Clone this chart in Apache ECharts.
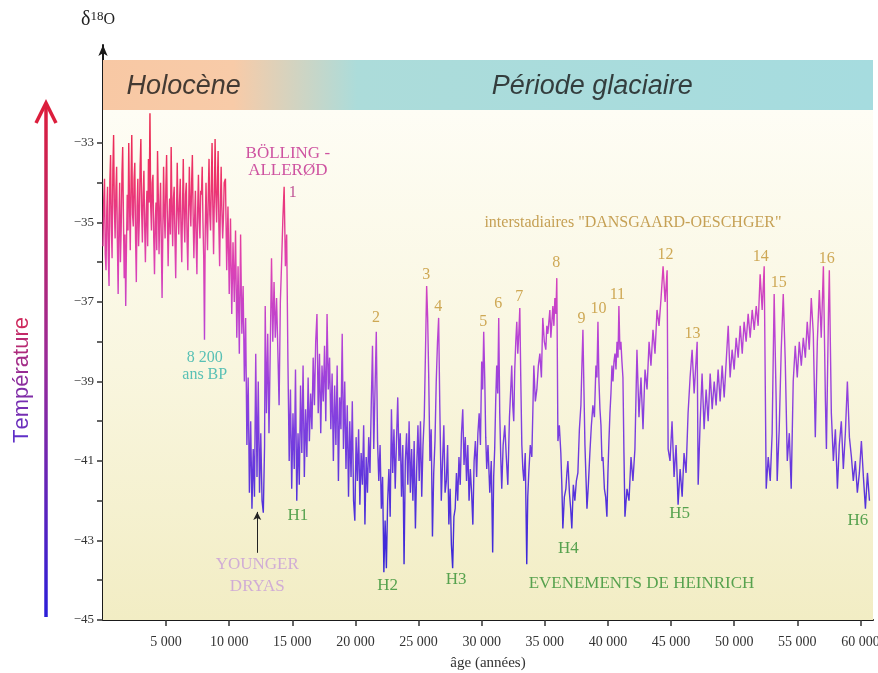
<!DOCTYPE html>
<html>
<head>
<meta charset="utf-8">
<script src="https://cdn.jsdelivr.net/npm/echarts@6/dist/echarts.min.js"></script>
<style>
  html, body { margin: 0; padding: 0; background: #ffffff; }
  #chart { width: 878px; height: 673px; }
</style>
</head>
<body>
<div id="chart"></div>
<script>
// Ice-core δ18O (‰) against age (years BP), in four stretches of the record.
const holocene = [
  [0,-35.6],[60,-34.4],[120,-33.9],[180,-35.8],[240,-36.2],[300,-34.7],[360,-34.1],[420,-35.9],
  [480,-36.6],[540,-34.0],[600,-33.3],[660,-35.1],[720,-35.9],[780,-33.7],[840,-32.8],[900,-34.6],
  [960,-35.4],[1020,-34.2],[1080,-33.6],[1140,-35.5],[1200,-36.8],[1260,-35.0],[1320,-34.0],[1380,-36.0],
  [1440,-35.2],[1500,-33.8],[1560,-33.1],[1620,-34.9],[1680,-36.4],[1740,-35.3],[1800,-37.1],[1860,-35.6],
  [1920,-34.3],[1980,-35.2],[2040,-33.0],[2100,-34.5],[2160,-35.7],[2220,-34.0],[2280,-32.8],[2340,-34.8],
  [2400,-35.1],[2460,-33.9],[2520,-33.5],[2580,-35.4],[2640,-36.5],[2700,-34.6],[2760,-33.9],[2820,-35.6],
  [2880,-34.9],[2940,-33.6],[3000,-32.9],[3060,-34.7],[3120,-35.5],[3180,-34.3],[3240,-33.7],[3300,-35.1],
  [3360,-36.0],[3420,-34.8],[3480,-34.2],[3540,-35.6],[3600,-33.4],[3660,-34.5],[3720,-32.25],[3780,-34.6],
  [3840,-35.2],[3900,-34.0],[3960,-33.8],[4020,-35.4],[4080,-36.3],[4140,-35.0],[4200,-34.5],[4260,-35.7],
  [4320,-33.2],[4380,-34.3],[4440,-35.8],[4500,-34.7],[4560,-34.0],[4620,-35.5],[4680,-36.9],[4740,-35.2],
  [4800,-33.6],[4860,-34.8],[4920,-35.4],[4980,-34.1],[5040,-33.3],[5100,-34.9],[5160,-36.1],[5220,-35.0],
  [5280,-34.4],[5340,-35.3],[5400,-33.1],[5460,-34.6],[5520,-35.6],[5580,-34.4],[5640,-34.1],[5700,-35.4],
  [5760,-36.4],[5820,-34.9],[5880,-33.5],[5940,-34.7],[6000,-35.3],[6060,-34.5],[6120,-33.9],[6180,-35.2],
  [6240,-36.0],[6300,-34.6],[6360,-33.4],[6420,-34.9],[6480,-35.5],[6540,-34.3],[6600,-34.0],[6660,-35.4],
  [6720,-36.2],[6780,-34.8],[6840,-33.6],[6900,-34.5],[6960,-35.1],[7020,-34.0],[7080,-33.3],[7140,-34.8],
  [7200,-35.9],[7260,-34.9],[7320,-34.2],[7380,-35.5],[7440,-36.3],[7500,-34.7],[7560,-33.8],[7620,-34.9],
  [7680,-35.4],[7740,-34.2],[7800,-34.3],[7860,-33.6],[7920,-35.0],[7980,-35.9],[8040,-37.95],[8100,-35.2],
  [8160,-34.0],[8220,-35.0],[8280,-35.7],[8340,-34.3],[8400,-33.4],[8460,-34.8],[8520,-35.2],[8580,-34.1],
  [8640,-33.0],[8700,-34.6],[8760,-35.8],[8820,-34.4],[8880,-32.9],[8940,-34.3],[9000,-35.0],[9060,-34.0],
  [9120,-33.2],[9180,-35.1],[9240,-36.1],[9300,-34.6],[9360,-33.6],[9420,-34.7],[9480,-35.4],[9540,-34.9],
  [9600,-34.0]
];

const lateGlacial = [
  [9700,-33.9],[9800,-36.2],[9900,-34.6],[10000,-36.8],[10100,-34.9],[10200,-37.3],[10300,-35.5],[10400,-37.0],
  [10500,-35.2],[10600,-37.9],[10700,-36.1],[10800,-38.3],[10900,-35.3],[11000,-37.8],[11100,-36.6],[11200,-39.0],
  [11300,-37.4],[11400,-40.6],[11500,-38.9],[11600,-41.8],[11700,-40.0],[11800,-42.2],[11900,-40.7],[12000,-41.9],
  [12100,-38.3],[12200,-41.4],[12300,-39.0],[12400,-41.8],[12500,-40.3],[12600,-42.0],[12700,-42.3],[12800,-40.6],
  [12850,-37.1],[12950,-39.8],[13050,-37.8],[13150,-40.3],[13250,-38.2],[13350,-35.9],[13450,-38.0],[13550,-36.5],
  [13650,-37.9],[13750,-36.9],[13850,-38.2],[13950,-39.6],[14050,-37.0],[14150,-36.0],[14250,-34.9],[14350,-34.1],
  [14450,-36.1],[14550,-35.3],[14650,-38.5],[14750,-41.0],[14850,-39.2],[14950,-41.7],[15050,-39.8],[15150,-41.2],
  [15250,-38.7],[15350,-42.0],[15450,-40.3],[15550,-41.6],[15650,-39.1],[15750,-40.8],[15850,-38.6],[15950,-41.4],
  [16050,-39.7],[16150,-40.9],[16250,-38.9],[16350,-40.5],[16450,-39.3],[16550,-40.2],[16650,-38.4],[16750,-39.6],
  [16850,-38.0],[16950,-37.3],[17050,-39.8],[17150,-38.3],[17250,-40.3],[17350,-38.6],[17450,-39.5],[17550,-38.1],
  [17650,-40.0],[17750,-37.3],[17850,-39.2],[17950,-38.4],[18050,-40.2],[18150,-38.8],[18250,-41.0],[18350,-39.1],
  [18450,-40.6],[18550,-38.6],[18650,-41.5],[18750,-39.4],[18850,-40.2],[18950,-37.8],[19050,-40.7],[19150,-39.0],
  [19250,-41.2],[19350,-39.6],[19450,-41.9],[19550,-40.0],[19650,-41.4],[19750,-39.5],[19850,-42.0],[19950,-42.5],
  [20050,-40.4]
];

const lastGlacialMax = [
  [20150,-41.5],[20250,-40.2],[20350,-42.1],[20450,-40.8],[20550,-41.6],[20650,-40.1],[20750,-42.6],[20850,-40.9],
  [20950,-41.8],[21050,-40.4],[21150,-41.3],[21250,-39.6],[21350,-38.1],[21450,-40.7],[21550,-39.2],[21650,-37.75],
  [21750,-40.5],[21850,-41.5],[21950,-40.6],[22050,-42.2],[22150,-41.4],[22250,-43.8],[22350,-42.5],[22450,-43.7],
  [22550,-42.0],[22650,-41.2],[22750,-42.4],[22850,-39.7],[22950,-41.3],[23050,-40.2],[23150,-41.7],[23250,-40.5],
  [23350,-39.4],[23450,-41.0],[23550,-40.3],[23650,-41.9],[23750,-40.6],[23850,-43.6],[23950,-41.0],[24050,-40.3],
  [24150,-41.6],[24250,-40.0],[24350,-41.8],[24450,-40.7],[24550,-42.0],[24650,-40.5],[24750,-42.7],[24850,-41.2],
  [24950,-40.1],[25050,-41.5],[25150,-40.0],[25250,-41.9],[25350,-40.6],[25450,-39.9],[25550,-38.2],[25640,-36.6],
  [25720,-37.4],[25800,-38.8],[25900,-41.0],[26000,-40.2],[26100,-42.9],[26200,-41.3],[26300,-40.5],[26400,-39.0],
  [26500,-38.0],[26590,-37.4],[26680,-39.6],[26800,-42.0],[26900,-41.0],[27000,-40.1],[27100,-41.8],[27200,-41.5],
  [27300,-40.6],[27400,-42.6],[27500,-41.7],[27600,-43.1],[27700,-43.7],[27800,-42.4],[27900,-42.2],[28000,-41.3],
  [28100,-42.0],[28200,-40.9],[28300,-41.6],[28400,-40.3],[28500,-39.7],[28600,-41.1],[28700,-40.4],[28800,-41.5],
  [28900,-40.6],[29000,-42.0],[29100,-41.2],[29200,-41.8],[29300,-42.6],[29400,-41.0],[29500,-40.5],[29600,-41.4],
  [29700,-40.3],[29800,-39.8],[29900,-40.6],[30000,-38.5],[30080,-39.2],[30160,-37.75],[30240,-38.9],[30320,-40.4],
  [30400,-41.2],[30500,-40.6],[30640,-41.8],[30760,-41.0],[30870,-43.3],[30950,-41.4],[31030,-40.7],[31110,-39.5],
  [31190,-38.6],[31270,-39.3],[31350,-37.4],[31430,-39.8],[31510,-40.9],[31590,-41.7],[31700,-40.6],[31830,-40.1],
  [31950,-40.9],[32070,-41.6],[32200,-39.9],[32300,-39.2],[32380,-38.6],[32460,-39.6],[32540,-40.0],[32620,-38.7],
  [32700,-38.0],[32780,-37.5],[32860,-38.3],[32940,-37.8],[33020,-37.15],[33100,-39.0],[33180,-40.6],[33260,-41.2],
  [33340,-41.5],[33450,-40.8],[33570,-43.6],[33650,-41.9],[33730,-41.3],[33850,-40.6],[33970,-40.9],[34050,-39.8],
  [34130,-38.6],[34250,-39.5],[34370,-39.2],[34490,-38.6],[34610,-38.3],[34730,-38.9],[34840,-37.4],[34960,-38.0],
  [35080,-38.2],[35160,-37.6],[35240,-37.8],[35400,-37.2],[35480,-37.9],[35560,-37.5],[35640,-37.1],[35720,-37.6],
  [35800,-36.9],[35880,-37.3],[35950,-36.4]
];

const stage3 = [
  [36040,-40.5],[36150,-40.1],[36270,-40.8],[36350,-41.6],[36430,-42.7],[36550,-41.9],[36670,-41.7],[36750,-41.3],
  [36830,-41.0],[36950,-41.8],[37050,-42.2],[37140,-42.7],[37260,-41.6],[37380,-42.0],[37500,-41.5],[37620,-41.3],
  [37740,-40.2],[37860,-39.6],[37940,-38.6],[38020,-37.7],[38100,-39.2],[38180,-40.6],[38260,-41.4],[38340,-42.2],
  [38450,-41.6],[38570,-40.8],[38690,-40.1],[38810,-39.6],[38930,-39.9],[39050,-38.6],[39130,-38.9],[39210,-37.5],
  [39290,-39.0],[39370,-39.7],[39450,-40.1],[39530,-41.0],[39610,-40.9],[39720,-41.7],[39820,-41.9],[39920,-42.4],
  [40000,-41.3],[40080,-40.5],[40160,-39.8],[40240,-39.3],[40320,-38.6],[40400,-39.0],[40480,-38.5],[40560,-38.3],
  [40640,-38.7],[40720,-38.0],[40800,-38.4],[40870,-37.1],[40950,-38.2],[41030,-38.0],[41110,-38.5],[41190,-38.9],
  [41270,-40.8],[41350,-42.4],[41510,-41.7],[41670,-42.0],[41830,-40.9],[41980,-41.5],[42140,-40.7],[42300,-38.2],
  [42460,-39.9],[42620,-38.9],[42780,-40.2],[42940,-38.7],[43100,-39.2],[43260,-38.0],[43410,-38.6],[43570,-37.7],
  [43730,-38.3],[43890,-37.2],[44050,-37.6],[44210,-36.9],[44370,-36.1],[44530,-37.0],[44690,-36.2],[44770,-40.7],
  [44920,-41.0],[45080,-40.0],[45240,-41.4],[45400,-40.6],[45560,-42.1],[45720,-41.2],[45880,-41.9],[46030,-40.8],
  [46190,-41.3],[46350,-39.8],[46510,-38.9],[46670,-38.2],[46830,-39.3],[47070,-38.0],[47150,-41.6],[47310,-40.0],
  [47460,-38.8],[47620,-40.2],[47780,-39.2],[47940,-40.0],[48100,-38.8],[48260,-39.7],[48420,-39.0],[48570,-39.6],
  [48730,-38.7],[48890,-39.5],[49050,-38.6],[49210,-39.4],[49370,-38.5],[49530,-37.6],[49680,-38.9],[49840,-38.2],
  [50000,-38.7],[50160,-37.9],[50320,-38.4],[50480,-37.6],[50640,-38.3],[50790,-37.5],[50950,-38.0],[51110,-37.3],
  [51270,-37.9],[51430,-37.2],[51590,-37.7],[51750,-37.1],[51900,-37.6],[52060,-36.3],[52220,-37.2],[52380,-36.1],
  [52540,-41.7],[52700,-40.9],[52860,-41.5],[53010,-40.3],[53170,-36.8],[53330,-39.5],[53410,-41.5],[53570,-40.2],
  [53730,-38.2],[53890,-36.8],[54050,-38.5],[54210,-41.0],[54370,-40.3],[54520,-41.7],[54680,-39.0],[54840,-38.1],
  [55000,-38.9],[55160,-38.0],[55320,-38.6],[55480,-37.9],[55640,-38.4],[55790,-37.5],[55950,-38.2],[56110,-36.9],
  [56270,-37.8],[56430,-40.4],[56590,-38.0],[56750,-36.7],[56900,-37.9],[57070,-36.1],[57230,-39.5],[57310,-40.7],
  [57470,-37.3],[57540,-36.2],[57700,-39.8],[57860,-41.0],[58020,-40.2],[58180,-41.7],[58330,-40.6],[58490,-40.0],
  [58650,-41.2],[58810,-40.3],[58970,-39.0],[59130,-40.4],[59290,-40.9],[59440,-41.5],[59600,-41.0],[59760,-41.8],
  [59920,-41.3],[60080,-40.5],[60240,-41.4],[60400,-42.2],[60560,-41.3],[60720,-42.0]
];

const xTicks = [5000,10000,15000,20000,25000,30000,35000,40000,45000,50000,55000,60000];
const yTicks = [-45,-44,-43,-42,-41,-40,-39,-38,-37,-36,-35,-34,-33];
const yLabels = [-45,-43,-41,-39,-37,-35,-33];
const periods = ['Holocène', 'Période glaciaire'];
const doEvents = ['2','3','4','5','6','7','8','9','10','11','12','13','14','15','16'];
const heinrichEvents = ['H1','H2','H3','H4','H5','H6'];

const record = holocene.concat(lateGlacial, lastGlacialMax, stage3);

const serif = "'Liberation Serif', 'Times New Roman', serif";
const sans = "'Liberation Sans', Arial, sans-serif";

const fmtAge = v => { const s = String(v); return s.length > 3 ? s.slice(0, -3) + ' ' + s.slice(-3) : s; };

// Where each annotation sits, in (age, δ18O) coordinates
const doAt = [[21630,-37.40],[25600,-36.32],[26550,-37.13],[30120,-37.50],[31310,-37.05],[32980,-36.87],
  [35910,-36.02],[37900,-37.43],[39250,-37.18],[40750,-36.82],[44570,-35.82],[46710,-37.81],
  [52110,-35.87],[53530,-36.52],[57340,-35.92]];
const hAt = [[15440,-42.36],[22540,-44.14],[27980,-43.97],[36870,-43.19],[45680,-42.33],[59800,-42.51]];

function note(text, at, color, extra) {
  return {
    name: text, value: at,
    label: Object.assign({ color: color, fontFamily: serif, fontSize: 17 }, extra || {})
  };
}

const notes = [];
notes.push(note(periods[0], [6390, -31.57], '#151515', { fontFamily: sans, fontStyle: 'italic', fontSize: 27 }));
notes.push(note(periods[1], [38760, -31.57], '#151515', { fontFamily: sans, fontStyle: 'italic', fontSize: 27 }));
notes.push(note('BÖLLING -\nALLERØD', [14640, -33.47], '#c2288c', { lineHeight: 17 }));
notes.push(note('1', [15040, -34.26], '#b02a80', { fontSize: 16 }));
notes.push(note('8 200\nans BP', [8060, -38.61], '#2fb3aa', { lineHeight: 17, fontSize: 16 }));
notes.push(note('YOUNGER\nDRYAS', [12220, -43.89], '#c79bd8', { lineHeight: 22 }));
notes.push(note('interstadiaires "DANSGAARD-OESCHGER"', [41980, -35.01], '#b8892e', { fontSize: 16 }));
notes.push(note('EVENEMENTS DE HEINRICH', [42660, -44.07], '#2f8f2f'));
doEvents.forEach((t, i) => notes.push(note(t, doAt[i], '#c3932f', { fontSize: 16 })));
heinrichEvents.forEach((t, i) => notes.push(note(t, hAt[i], '#2f8f2f')));

// Per-letter tint for the vertical "Température" caption (bottom = cold, top = warm)
const word = 'Température';
const c0 = [96, 48, 200], c1 = [206, 40, 92];
const rich = {};
let richText = '';
for (let i = 0; i < word.length; i++) {
  const t = i / (word.length - 1);
  const c = c0.map((v, k) => Math.round(v + (c1[k] - v) * t));
  rich['c' + i] = { fill: 'rgb(' + c.join(',') + ')', fontSize: 22, fontFamily: sans };
  richText += '{c' + i + '|' + word[i] + '}';
}

const bgGrad = new echarts.graphic.LinearGradient(0, 0, 0, 1, [
  { offset: 0, color: '#fefdf5' },
  { offset: 0.5, color: '#f9f6df' },
  { offset: 1, color: '#f2edc4' }
]);
const bandGrad = new echarts.graphic.LinearGradient(0, 0, 1, 0, [
  { offset: 0, color: '#f8c8a4' },
  { offset: 0.17, color: '#f8cba8' },
  { offset: 0.33, color: '#acdcda' },
  { offset: 1, color: '#a6dcdf' }
]);

const chart = echarts.init(document.getElementById('chart'), null, { renderer: 'canvas' });

chart.setOption({
  animation: false,
  backgroundColor: '#ffffff',
  grid: { left: 103, right: 5, top: 45, bottom: 53, containLabel: false, outerBoundsMode: 'none' },
  xAxis: {
    type: 'value', min: 0, max: 61000,
    axisLine: { lineStyle: { color: '#1a1a1a', width: 2 } },
    axisTick: { customValues: xTicks, length: 6, lineStyle: { color: '#333', width: 1.5 } },
    axisLabel: { customValues: xTicks, formatter: fmtAge, margin: 15, fontFamily: serif, fontSize: 14, color: '#333' },
    splitLine: { show: false },
    name: 'âge (années)', nameLocation: 'middle', nameGap: 36,
    nameTextStyle: { fontFamily: serif, fontSize: 15, color: '#333' }
  },
  yAxis: {
    type: 'value', min: -45, max: -30.535,
    axisLine: { show: true, symbol: ['none', 'arrow'], symbolSize: [7, 11], lineStyle: { color: '#1a1a1a', width: 2 } },
    axisTick: { show: true, customValues: yTicks, length: 6, lineStyle: { color: '#333', width: 1.5 } },
    axisLabel: { customValues: yLabels, formatter: v => '−' + Math.abs(v), margin: 9, fontFamily: serif, fontSize: 13, color: '#333' },
    splitLine: { show: false }
  },
  visualMap: {
    show: false, type: 'continuous', seriesIndex: 0, dimension: 1, min: -44, max: -32,
    inRange: { color: ['#2a1ad8', '#4a28dc', '#7a36e0', '#b23ad6', '#dc38b0', '#ec2a66', '#e8183c'] }
  },
  series: [
    {
      name: 'δ18O', type: 'line', data: record, z: 3,
      showSymbol: false, symbol: 'none',
      lineStyle: { width: 1.4, opacity: 0.95 }
    },
    {
      name: 'fond', type: 'line', data: [], z: 1, silent: true,
      markArea: {
        silent: true,
        data: [
          [{ xAxis: 0, yAxis: -45, itemStyle: { color: bgGrad } }, { xAxis: 61000, yAxis: -32.17 }],
          [{ xAxis: 0, yAxis: -32.17, itemStyle: { color: bandGrad } }, { xAxis: 61000, yAxis: -30.91 }]
        ]
      }
    },
    {
      name: 'notes', type: 'scatter', data: notes, z: 5, silent: true,
      symbolSize: 0,
      label: { show: true, position: 'inside', formatter: p => p.name },
      markLine: {
        silent: true, symbol: ['none', 'arrow'], symbolSize: [6, 8],
        lineStyle: { color: '#222', width: 1, type: 'solid' },
        label: { show: false },
        data: [[{ coord: [12220, -43.31] }, { coord: [12220, -42.28] }]]
      }
    }
  ],
  graphic: [
    {
      type: 'text', left: 81, top: 10,
      style: {
        text: '{a|δ}{b|18}{c|O}',
        rich: {
          a: { fontSize: 20, fontFamily: serif, fill: '#222', verticalAlign: 'bottom' },
          b: { fontSize: 13, fontFamily: serif, fill: '#222', verticalAlign: 'top' },
          c: { fontSize: 16, fontFamily: serif, fill: '#222', verticalAlign: 'middle' }
        }
      }
    },
    {
      type: 'line', shape: { x1: 46, y1: 617, x2: 46, y2: 104 },
      style: {
        lineWidth: 3.5,
        stroke: new echarts.graphic.LinearGradient(46, 104, 46, 617, [
          { offset: 0, color: '#dc1e3c' },
          { offset: 0.5, color: '#9a2a98' },
          { offset: 1, color: '#2c1ed8' }
        ], true)
      }
    },
    {
      type: 'polyline', shape: { points: [[36, 123], [46, 103], [56, 123]] },
      style: { stroke: '#dc1e3c', lineWidth: 3.5, fill: null }
    },
    {
      type: 'text', x: 22, y: 380, rotation: Math.PI / 2,
      style: { text: richText, rich: rich, align: 'center', verticalAlign: 'middle' }
    }
  ]
});
</script>
</body>
</html>
